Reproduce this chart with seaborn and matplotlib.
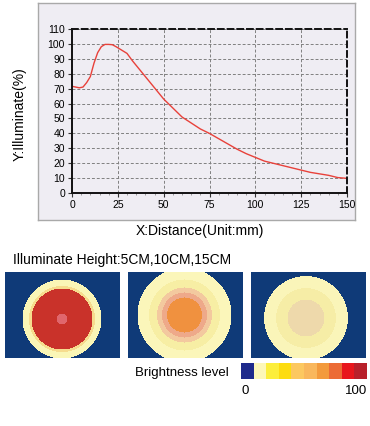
import numpy as np
import matplotlib
matplotlib.use("Agg")
import matplotlib.pyplot as plt
from matplotlib.colors import ListedColormap
from matplotlib.ticker import MultipleLocator
import seaborn as sns
import pandas as pd

# ---------------- data ----------------
distance = [0, 2, 4, 6, 8, 10, 12, 14, 16, 18, 20, 22, 24, 26, 28, 30, 33, 36, 39, 42,
            45, 50, 55, 60, 65, 70, 75, 80, 85, 90, 95, 100, 105, 110, 115, 120, 125,
            130, 135, 140, 145, 150]
illuminate = [71.5, 71, 70.5, 71, 74, 78, 87, 94, 98, 99.5, 99.5, 99.3, 98, 96.5, 95,
              93.5, 88.5, 84, 79.5, 75, 70.5, 63, 57, 51, 47, 43, 40, 36.5, 33, 29.5,
              26.5, 24, 21.5, 20, 18.5, 17, 15.5, 14, 13, 12, 10.5, 10]
x_ticks = [0, 25, 50, 75, 100, 125, 150]
y_ticks = list(range(0, 111, 10))

heights = ["5CM", "10CM", "15CM"]
# ring colours (outer -> inner) and ring radii (pixels) for each spot
spot_colors = [
    ["#faf6b6", "#f6dc8e", "#c9322a", "#e0666c"],
    ["#fbf6ba", "#f7eea4", "#f3c99f", "#eea98a", "#f0913f"],
    ["#faf5b9", "#f6eda6", "#eed9ab"],
]
spot_radii = [
    [39.5, 33, 30.5, 5.5],
    [47, 35.5, 27.5, 22.5, 17.5],
    [42, 30, 18.5],
]
spot_centers = [(57, 47), (56.5, 43), (55, 46)]
background_color = "#0f3a78"

level_colors = ["#1e2a8c", "#fdf7b8", "#fcee3c", "#fddc10", "#fcc860",
                "#f9b75c", "#f39a3c", "#ec6b35", "#e8161c", "#b8202a"]
level_labels = ["0", "100"]

# ---------------- figure ----------------
W, H = 370, 426
fig = plt.figure(figsize=(W / 100, H / 100), dpi=100)
plt.rcParams["font.family"] = ["Liberation Sans", "DejaVu Sans"]
FONT = ["Liberation Sans", "DejaVu Sans"]

def frac(x0, y0, x1, y1):
    return [x0 / W, 1 - y1 / H, (x1 - x0) / W, (y1 - y0) / H]

marble = "#efedf3"
bg = fig.add_axes(frac(38, 3, 355, 220), zorder=-5)
bg.set_facecolor(marble)
bg.set_xticks([])
bg.set_yticks([])
for s in bg.spines.values():
    s.set_color("#a9a9a9")
    s.set_linewidth(1.0)

ax = fig.add_axes(frac(72, 28.7, 347, 193.3), zorder=1)
df = pd.DataFrame({"distance": distance, "illuminate": illuminate})
sns.lineplot(data=df, x="distance", y="illuminate", ax=ax, color="#e8413a",
             linewidth=1.0)
ax.set_facecolor(marble)
ax.set_xlim(0, 150)
ax.set_ylim(0, 110)
ax.set_xticks(x_ticks)
ax.set_yticks(y_ticks)
ax.xaxis.set_minor_locator(MultipleLocator(5))
ax.tick_params(axis="both", which="major", labelsize=7.5, length=3, width=0.8,
               color="#333333", pad=2)
ax.tick_params(axis="x", which="minor", length=1.5, width=0.5, color="#777777")
for lab in ax.get_xticklabels() + ax.get_yticklabels():
    lab.set_fontfamily(FONT)
ax.grid(True, which="major", linestyle=(0, (3, 2)), color="#808080", linewidth=0.7)
ax.set_axisbelow(True)
for s in ["left", "bottom"]:
    ax.spines[s].set_color("#111111")
    ax.spines[s].set_linewidth(1.4)
for s in ["top", "right"]:
    ax.spines[s].set_color("#111111")
    ax.spines[s].set_linewidth(1.4)
    ax.spines[s].set_linestyle((0, (3, 2)))
ax.set_xlabel("")
ax.set_ylabel("")

fig.text(20 / W, 1 - 114 / H, "Y:Illuminate(%)", rotation=90, ha="center",
         va="center", fontsize=10, family=FONT)
fig.text(200 / W, 1 - 231 / H, "X:Distance(Unit:mm)", ha="center", va="center",
         fontsize=10, family=FONT)

fig.text(13 / W, 1 - 260 / H, "Illuminate Height:" + ",".join(heights),
         ha="left", va="center", fontsize=10, family=FONT)

# ---------------- spot maps ----------------
panels = [(5, 272, 120, 358), (128, 272, 243, 358), (251, 272, 366, 358)]
for (x0, y0, x1, y1), cols, radii, (cx, cy) in zip(panels, spot_colors,
                                                     spot_radii, spot_centers):
    nx, ny = int(x1 - x0), int(y1 - y0)
    yy, xx = np.mgrid[0:ny, 0:nx]
    r = np.hypot(xx + 0.5 - cx, yy + 0.5 - cy)
    grid = np.zeros((ny, nx))
    for i, rad in enumerate(radii):
        grid[r <= rad] = i + 1
    cmap = ListedColormap([background_color] + cols)
    pax = fig.add_axes(frac(x0, y0, x1, y1))
    sns.heatmap(grid, ax=pax, cmap=cmap, vmin=-0.5, vmax=len(cols) + 0.5,
                cbar=False, xticklabels=False, yticklabels=False)
    pax.set_xticks([])
    pax.set_yticks([])

# ---------------- legend bar ----------------
fig.text(135 / W, 1 - 373 / H, "Brightness level", ha="left", va="center",
         fontsize=9.5, family=FONT)
lax = fig.add_axes(frac(241, 363, 367, 379))
sns.heatmap(np.arange(len(level_colors))[None, :], ax=lax,
            cmap=ListedColormap(level_colors), vmin=-0.5,
            vmax=len(level_colors) - 0.5, cbar=False,
            xticklabels=False, yticklabels=False)
lax.set_xticks([])
lax.set_yticks([])
fig.text(245 / W, 1 - 391 / H, level_labels[0], ha="center", va="center",
         fontsize=9.5, family=FONT)
fig.text(367 / W, 1 - 391 / H, level_labels[1], ha="right", va="center",
         fontsize=9.5, family=FONT)

fig.savefig("out.png", dpi=100, facecolor="white")
